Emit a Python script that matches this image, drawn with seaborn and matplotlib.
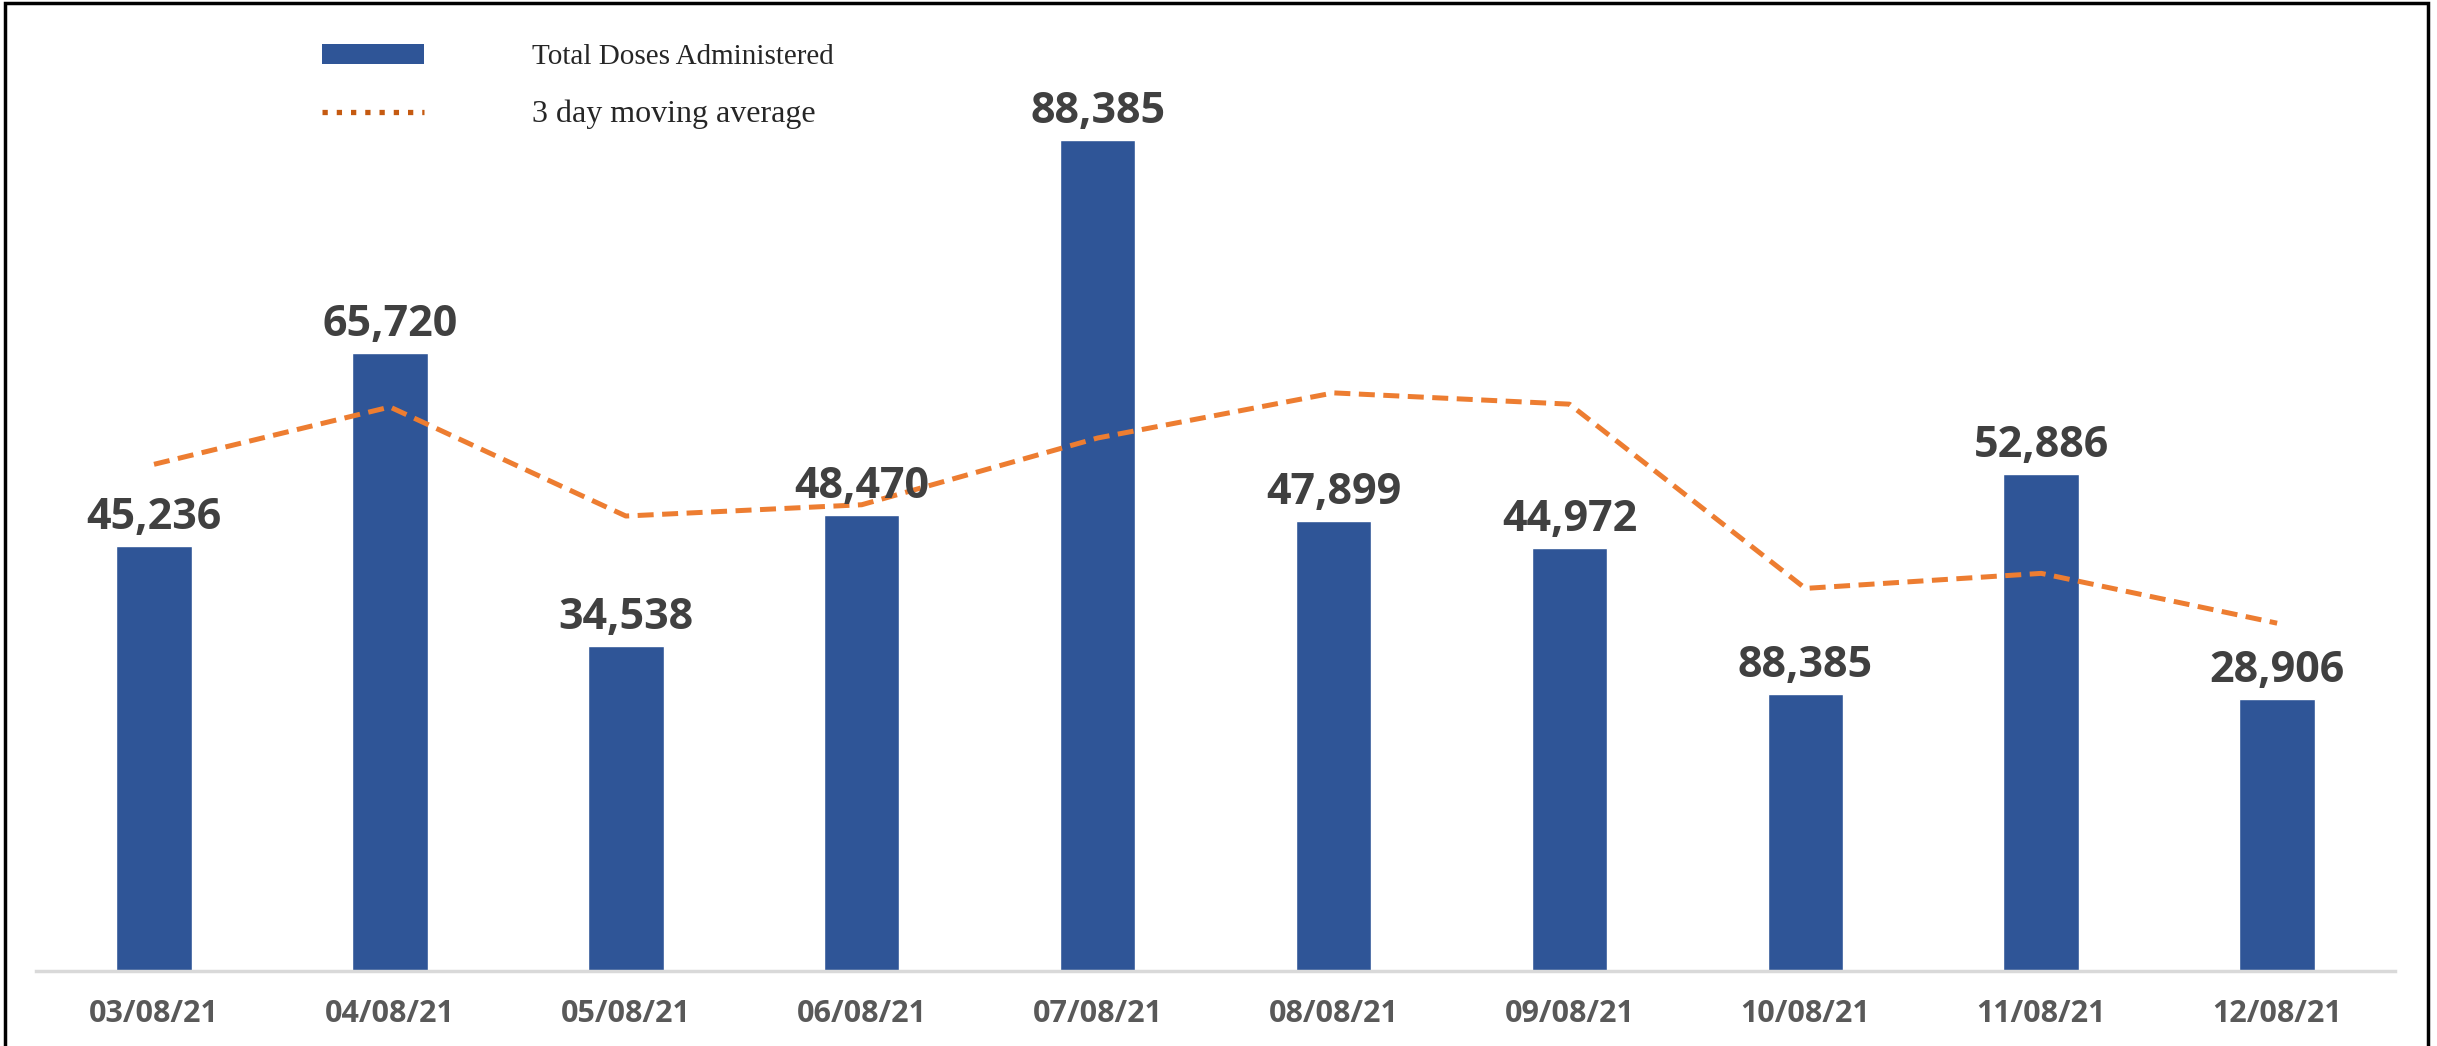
import numpy as np
import pandas as pd
import matplotlib
matplotlib.use("Agg")
import matplotlib.pyplot as plt
from matplotlib.patches import Patch, Rectangle
from matplotlib.lines import Line2D
import seaborn as sns

# values
dates = ['03/08/21', '04/08/21', '05/08/21', '06/08/21', '07/08/21',
         '08/08/21', '09/08/21', '10/08/21', '11/08/21', '12/08/21']
doses = [45236, 65720, 34538, 48470, 88385, 47899, 44972, 29450, 52886, 28906]
dose_labels = ['45,236', '65,720', '34,538', '48,470', '88,385',
               '47,899', '44,972', '88,385', '52,886', '28,906']
moving_avg = [53900, 60000, 48400, 49600, 56700, 61500, 60300, 40700, 42300, 37000]

bar_color = '#2F5597'
line_color = '#ED7D31'

df = pd.DataFrame({'date': dates, 'doses': doses, 'avg': moving_avg})
df['idx'] = np.arange(len(df))

sns.set_style('white')

fig = plt.figure(figsize=(24.37, 10.46), dpi=100)
ax = fig.add_axes([0.0148, 0.0717, 0.968, 0.8987])

sns.barplot(data=df, x='date', y='doses', color=bar_color, width=0.32,
            saturation=1, ax=ax)
sns.lineplot(data=df, x='idx', y='avg', color=line_color, linewidth=3.6,
             linestyle=(0, (3.2, 1.7)), legend=False, ax=ax)

for i, (v, lab) in enumerate(zip(doses, dose_labels)):
    ax.annotate(lab, (i, v), xytext=(0, 5), textcoords='offset points',
                ha='center', va='bottom', fontsize=31, fontweight='bold',
                family='Open Sans', color='#404040')

ax.set_xlim(-0.5, 9.5)
ax.set_ylim(0, 100000)
ax.set_xticks(range(len(dates)))
ax.set_xticklabels(dates, fontsize=22, fontweight='bold', family='Open Sans',
                   color='#595959')
ax.tick_params(axis='x', length=0, pad=20)
ax.set_yticks([])
ax.set_xlabel('')
ax.set_ylabel('')
for s in ['top', 'right', 'left']:
    ax.spines[s].set_visible(False)
ax.spines['bottom'].set_color('#D9D9D9')
ax.spines['bottom'].set_linewidth(2.5)

handles = [Patch(facecolor=bar_color, edgecolor='none'),
           Line2D([0], [0], color='#C55A11', linewidth=3.8, linestyle=(0, (1, 1.7)))]
leg = fig.legend(handles, ['Total Doses Administered', '3 day moving average'],
                 loc='upper left', bbox_to_anchor=(0.132, 0.958),
                 frameon=False, prop={'family': 'Liberation Serif', 'size': 21},
                 handlelength=3.5, handleheight=0.7, handletextpad=3.7,
                 labelspacing=1.0, borderpad=0, borderaxespad=0)
leg.get_texts()[1].set_fontsize(23)

fig.patches.append(Rectangle((0.002, -0.01), 0.9943, 1.007, transform=fig.transFigure,
                             fill=False, linewidth=2.5, edgecolor='black'))

plt.savefig('out.png', dpi=100)
plt.close()
